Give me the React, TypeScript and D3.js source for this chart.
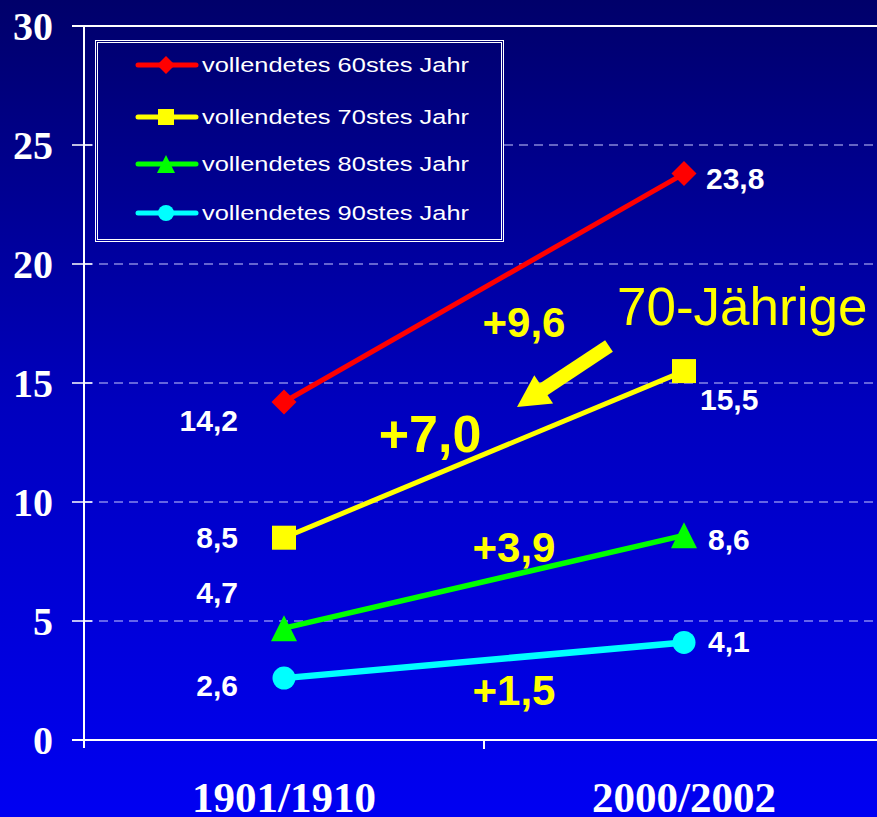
import React from 'react';
import * as d3 from 'd3';

const periods = ['1901/1910', '2000/2002'];
const seriesNames = [
  'vollendetes 60stes Jahr',
  'vollendetes 70stes Jahr',
  'vollendetes 80stes Jahr',
  'vollendetes 90stes Jahr',
];
const seriesColors = ['#ff0000', '#ffff00', '#00ff00', '#00ffff'];
const seriesShapes = ['diamond', 'square', 'triangle', 'circle'];
const values60 = [14.2, 23.8];
const values70 = [8.5, 15.5];
const values80 = [4.7, 8.6];
const values90 = [2.6, 4.1];
const yTicks = [0, 5, 10, 15, 20, 25, 30];
// where the gain labels sit: t = share of the way between the two periods, v = baseline value
const gainSpots = [
  { t: 0.6, v: 16.93, size: 42 },
  { t: 0.365, v: 12.1, size: 52 },
  { t: 0.575, v: 7.48, size: 42 },
  { t: 0.575, v: 1.47, size: 42 },
];

const W = 877;
const H = 817;
const fmt = (n: number) => n.toFixed(1).replace('.', ',');

function Marker({ shape, x, y, s, color }: { shape: string; x: number; y: number; s: number; color: string }) {
  if (shape === 'circle') return <circle cx={x} cy={y} r={s / 2} fill={color} />;
  if (shape === 'square')
    return <rect x={x - s / 2} y={y - s / 2} width={s} height={s} fill={color} />;
  if (shape === 'diamond') {
    const h = s / 2;
    return <path d={`M${x},${y - h}L${x + h},${y}L${x},${y + h}L${x - h},${y}Z`} fill={color} />;
  }
  const h = s / 2;
  return <path d={`M${x},${y - h}L${x + h},${y + h}L${x - h},${y + h}Z`} fill={color} />;
}

export default function App() {
  const allValues = [values60, values70, values80, values90];
  const margin = { left: 84, top: 26, bottom: 740 };
  const x = d3.scaleBand<string>().domain(periods).range([margin.left, 884]);
  const cx = (p: string) => (x(p) || 0) + x.bandwidth() / 2;
  const y = d3.scaleLinear().domain([0, 30]).range([margin.bottom, margin.top]);
  const line = d3
    .line<number>()
    .x((_, i) => cx(periods[i]))
    .y((d) => y(d));

  const x0 = cx(periods[0]);
  const x1 = cx(periods[1]);
  const labelFont = 'Liberation Sans, Arial, sans-serif';
  const serif = 'Liberation Serif, Times New Roman, serif';

  // legend
  const lg = { x: 95.5, y: 40.5, w: 408, h: 201 };
  const legendRows = [65, 117, 164, 213];
  const legendMarker = [18, 16, 18, 16];
  const markerSize = [25, 24, 26, 23];
  const lineWidths = [5, 5, 5.5, 6.5];

  // offsets of the value labels from their points
  const leftDy = [29, 10, -25, 18];
  const rightDx = [22, 16, 24, 24];
  const rightDy = [15, 39, 15, 10];

  // arrow pointing at the 70-year line
  const arrowTip = { x: 517, y: 407 };
  const arrowTail = { x: 609, y: 346 };
  const ang = Math.atan2(arrowTip.y - arrowTail.y, arrowTip.x - arrowTail.x);
  const headLen = 32;
  const headHalf = 17;
  const bx = arrowTip.x - headLen * Math.cos(ang);
  const by = arrowTip.y - headLen * Math.sin(ang);
  const px = -Math.sin(ang);
  const py = Math.cos(ang);

  return (
    <svg
      width={W}
      height={H}
      style={{ position: 'absolute', left: 0, top: 0, display: 'block' }}
    >
      <defs>
        <linearGradient id="bg" gradientUnits="userSpaceOnUse" x1="0" y1="0" x2="0" y2={H}>
          <stop offset="0" stopColor="#00006a" />
          <stop offset="0.5" stopColor="#0000bf" />
          <stop offset="1" stopColor="#0000f2" />
        </linearGradient>
      </defs>
      <rect x={0} y={0} width={W} height={H} fill="url(#bg)" />

      {/* grid */}
      {yTicks
        .filter((t) => t > 0 && t < 30)
        .map((t) => (
          <line
            key={'g' + t}
            x1={margin.left}
            x2={W}
            y1={y(t)}
            y2={y(t)}
            stroke="#c8c8ff"
            strokeWidth={1}
            strokeDasharray="9,6"
          />
        ))}
      <line x1={72} x2={W} y1={y(30)} y2={y(30)} stroke="#fff" strokeWidth={2} />

      {/* axes */}
      <line x1={margin.left} x2={margin.left} y1={y(30)} y2={y(0) + 8} stroke="#fff" strokeWidth={2} />
      <line x1={72} x2={W} y1={y(0)} y2={y(0)} stroke="#fff" strokeWidth={2} />
      {yTicks.map((t) => (
        <g key={'t' + t}>
          <line x1={72} x2={92} y1={y(t)} y2={y(t)} stroke="#fff" strokeWidth={1.5} />
          <text
            x={53}
            y={y(t) + 14}
            textAnchor="end"
            fill="#fff"
            fontFamily={serif}
            fontWeight="bold"
            fontSize={40}
          >
            {t}
          </text>
        </g>
      ))}
      <line
        x1={x(periods[1]) || 0}
        x2={x(periods[1]) || 0}
        y1={y(0)}
        y2={y(0) + 9}
        stroke="#fff"
        strokeWidth={2}
      />
      {periods.map((p) => (
        <text
          key={p}
          x={cx(p)}
          y={812}
          textAnchor="middle"
          fill="#fff"
          fontFamily={serif}
          fontWeight="bold"
          fontSize={43}
        >
          {p}
        </text>
      ))}

      {/* legend */}
      <rect x={lg.x} y={lg.y} width={lg.w} height={lg.h} fill="url(#bg)" stroke="#fff" strokeWidth={1} />
      <rect x={lg.x + 2} y={lg.y + 2} width={lg.w - 4} height={lg.h - 4} fill="none" stroke="#fff" strokeWidth={1} />
      {seriesNames.map((n, i) => (
        <g key={n}>
          <line
            x1={138}
            x2={196}
            y1={legendRows[i]}
            y2={legendRows[i]}
            stroke={seriesColors[i]}
            strokeWidth={5}
            strokeLinecap="round"
          />
          <Marker shape={seriesShapes[i]} x={166} y={legendRows[i]} s={legendMarker[i]} color={seriesColors[i]} />
          <text
            x={202}
            y={legendRows[i] + 7}
            fill="#fff"
            fontFamily={labelFont}
            fontSize={20.5}
            textLength={267}
            lengthAdjust="spacingAndGlyphs"
          >
            {n}
          </text>
        </g>
      ))}

      {/* series */}
      {allValues.map((vals, i) => (
        <g key={'s' + i}>
          <path d={line(vals) || ''} fill="none" stroke={seriesColors[i]} strokeWidth={lineWidths[i]} />
          {vals.map((v, j) => (
            <Marker
              key={j}
              shape={seriesShapes[i]}
              x={cx(periods[j])}
              y={y(v)}
              s={markerSize[i]}
              color={seriesColors[i]}
            />
          ))}
        </g>
      ))}

      {/* value labels */}
      {allValues.map((vals, i) => (
        <g key={'v' + i} fill="#fff" fontFamily={labelFont} fontWeight="bold" fontSize={30}>
          <text x={x0 - 46} y={y(vals[0]) + leftDy[i]} textAnchor="end">
            {fmt(vals[0])}
          </text>
          <text x={x1 + rightDx[i]} y={y(vals[1]) + rightDy[i]}>
            {fmt(vals[1])}
          </text>
        </g>
      ))}

      {/* gains */}
      {allValues.map((vals, i) => (
        <text
          key={'d' + i}
          x={x0 + (x1 - x0) * gainSpots[i].t}
          y={y(gainSpots[i].v)}
          textAnchor="middle"
          fill="#ffff00"
          fontFamily={labelFont}
          fontWeight="bold"
          fontSize={gainSpots[i].size}
        >
          {'+' + fmt(vals[1] - vals[0])}
        </text>
      ))}

      {/* annotation */}
      <text x={617} y={325} fill="#ffff00" fontFamily={labelFont} fontSize={53}>
        70-Jährige
      </text>
      <line
        x1={arrowTail.x}
        y1={arrowTail.y}
        x2={bx + 2 * Math.cos(ang)}
        y2={by + 2 * Math.sin(ang)}
        stroke="#ffff00"
        strokeWidth={14}
      />
      <path
        d={`M${arrowTip.x},${arrowTip.y}L${bx + px * headHalf},${by + py * headHalf}L${bx - px * headHalf},${by - py * headHalf}Z`}
        fill="#ffff00"
      />
    </svg>
  );
}
